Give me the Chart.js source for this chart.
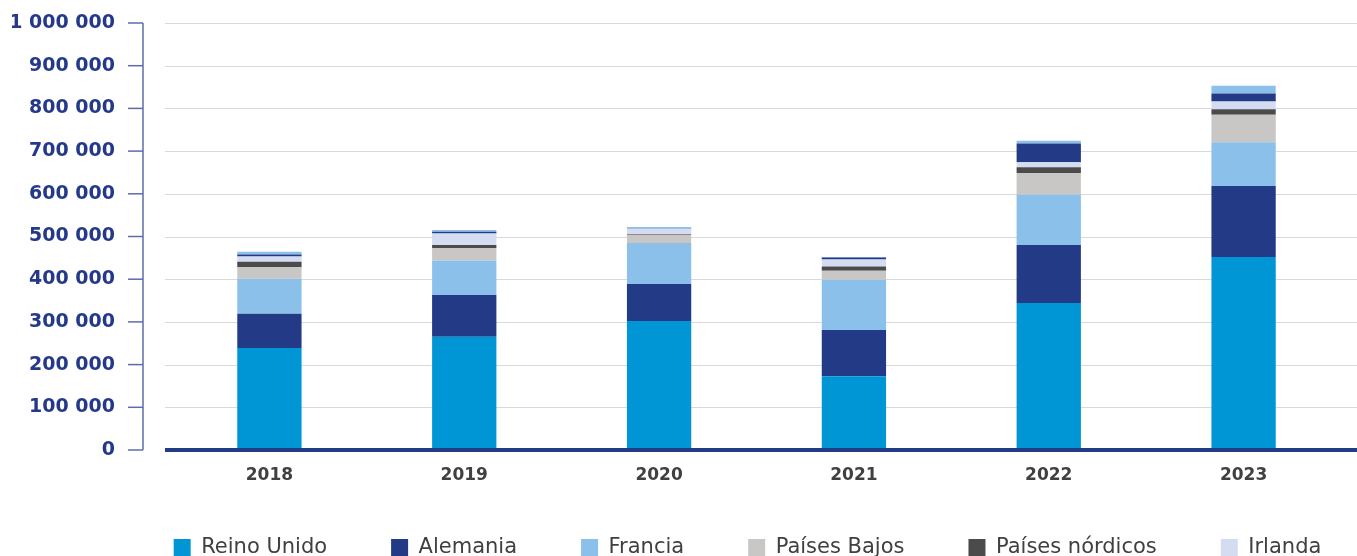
<!DOCTYPE html>
<html>

<head>
    <title>Turistas por mercado</title>
    <script src="https://cdn.jsdelivr.net/npm/chart.js"></script>
    <style>
        body { margin: 0; overflow: hidden; background: #fff; }
        #wrap { width: 1357px; height: 585px; }
    </style>
</head>

<body>
    <div id="wrap"><canvas id="chart"></canvas></div>

    <script>
        // Data
        const years = ['2018', '2019', '2020', '2021', '2022', '2023'];
        const reinoUnido = [239000, 265000, 302000, 173000, 344000, 452000];
        const alemania = [80000, 98000, 87000, 108000, 136000, 166000];
        const francia = [82000, 80000, 96000, 118000, 118000, 103000];
        const paisesBajos = [27000, 30000, 19000, 21000, 51000, 64000];
        const nordicos = [13000, 7000, 2000, 10000, 13000, 13000];
        const irlanda = [12000, 27000, 12000, 16000, 12000, 18000];
        const otrosEuropa = [5000, 4000, 1000, 5000, 44000, 19000];
        const restoMundo = [6000, 4000, 3000, 1000, 6000, 18000];
        const yTicks = [0, 100000, 200000, 300000, 400000, 500000, 600000, 700000, 800000, 900000, 1000000];

        const navy = '#25398a';

        function fmt(v) {
            return String(v).replace(/\B(?=(\d{3})+(?!\d))/g, ' ');
        }

        // Grid lines and axis lines the way the original draws them
        const axisPlugin = {
            id: 'axisLines',
            beforeDatasetsDraw(chart) {
                const ctx = chart.ctx;
                const y = chart.scales.y;
                const top = y.getPixelForValue(1000000);
                const bottom = y.getPixelForValue(0);
                ctx.save();
                ctx.strokeStyle = '#d9d9d9';
                ctx.lineWidth = 1;
                yTicks.forEach(t => {
                    if (t === 0) return;
                    const py = Math.round(y.getPixelForValue(t)) + 0.5;
                    ctx.beginPath();
                    ctx.moveTo(165, py);
                    ctx.lineTo(1357, py);
                    ctx.stroke();
                });
                // y axis line and tick marks
                ctx.strokeStyle = '#5d6ca8';
                ctx.lineWidth = 1.5;
                ctx.beginPath();
                ctx.moveTo(143, top);
                ctx.lineTo(143, bottom);
                ctx.stroke();
                yTicks.forEach(t => {
                    const py = y.getPixelForValue(t);
                    ctx.beginPath();
                    ctx.moveTo(128, py);
                    ctx.lineTo(143, py);
                    ctx.stroke();
                });
                ctx.restore();
            },
            afterDatasetsDraw(chart) {
                const ctx = chart.ctx;
                const py = chart.scales.y.getPixelForValue(0);
                ctx.save();
                ctx.strokeStyle = '#233a86';
                ctx.lineWidth = 4;
                ctx.beginPath();
                ctx.moveTo(165, py);
                ctx.lineTo(1357, py);
                ctx.stroke();
                ctx.restore();
            },
            afterLayout(chart) {
                // the legend sits a bit right of centre and closer to the axis in the original
                chart.legend.left += 71;
                chart.legend.right += 71;
                chart.legend.top -= 17;
                chart.legend.bottom -= 17;
            }
        };

        function ds(label, data, color) {
            return {
                label: label,
                data: data,
                backgroundColor: color,
                borderWidth: 0,
                barPercentage: 0.33,
                categoryPercentage: 1
            };
        }

        const ctx = document.getElementById('chart').getContext('2d');
        const chart = new Chart(ctx, {
            type: 'bar',
            data: {
                labels: years,
                datasets: [
                    ds('Reino Unido', reinoUnido, '#0096d6'),
                    ds('Alemania', alemania, '#233a86'),
                    ds('Francia', francia, '#8bc0eb'),
                    ds('Países Bajos', paisesBajos, '#c8c7c5'),
                    ds('Países nórdicos', nordicos, '#4b4b4b'),
                    ds('Irlanda', irlanda, '#d3dcf1'),
                    ds('Otros Europa', otrosEuropa, '#233a86'),
                    ds('Resto del mundo', restoMundo, '#8bc0eb')
                ]
            },
            options: {
                responsive: true,
                maintainAspectRatio: false,
                animation: false,
                layout: { padding: { left: 12, right: 16, top: 23, bottom: 0 } },
                plugins: {
                    tooltip: { enabled: false },
                    legend: {
                        position: 'bottom',
                        labels: {
                            filter: (item) => item.datasetIndex < 6,
                            boxWidth: 17,
                            boxHeight: 17,
                            padding: 64,
                            color: '#404040',
                            font: { family: 'DejaVu Sans', size: 21 }
                        }
                    }
                },
                scales: {
                    x: {
                        stacked: true,
                        grid: { display: false, drawTicks: false },
                        border: { display: false },
                        ticks: {
                            padding: 15,
                            color: '#404040',
                            font: { family: 'DejaVu Sans', size: 17, weight: 'bold' }
                        },
                        afterFit(scale) { scale.height = 40; }
                    },
                    y: {
                        stacked: true,
                        min: 0,
                        max: 1000000,
                        grid: { display: false, drawTicks: true, tickLength: 57 },
                        border: { display: false },
                        ticks: {
                            stepSize: 100000,
                            padding: 0,
                            color: navy,
                            font: { family: 'DejaVu Sans', size: 19, weight: 'bold' },
                            callback: (v) => fmt(v)
                        },
                        afterFit(scale) { scale.width = 160; }
                    }
                }
            },
            plugins: [axisPlugin]
        });
    </script>
</body>

</html>
